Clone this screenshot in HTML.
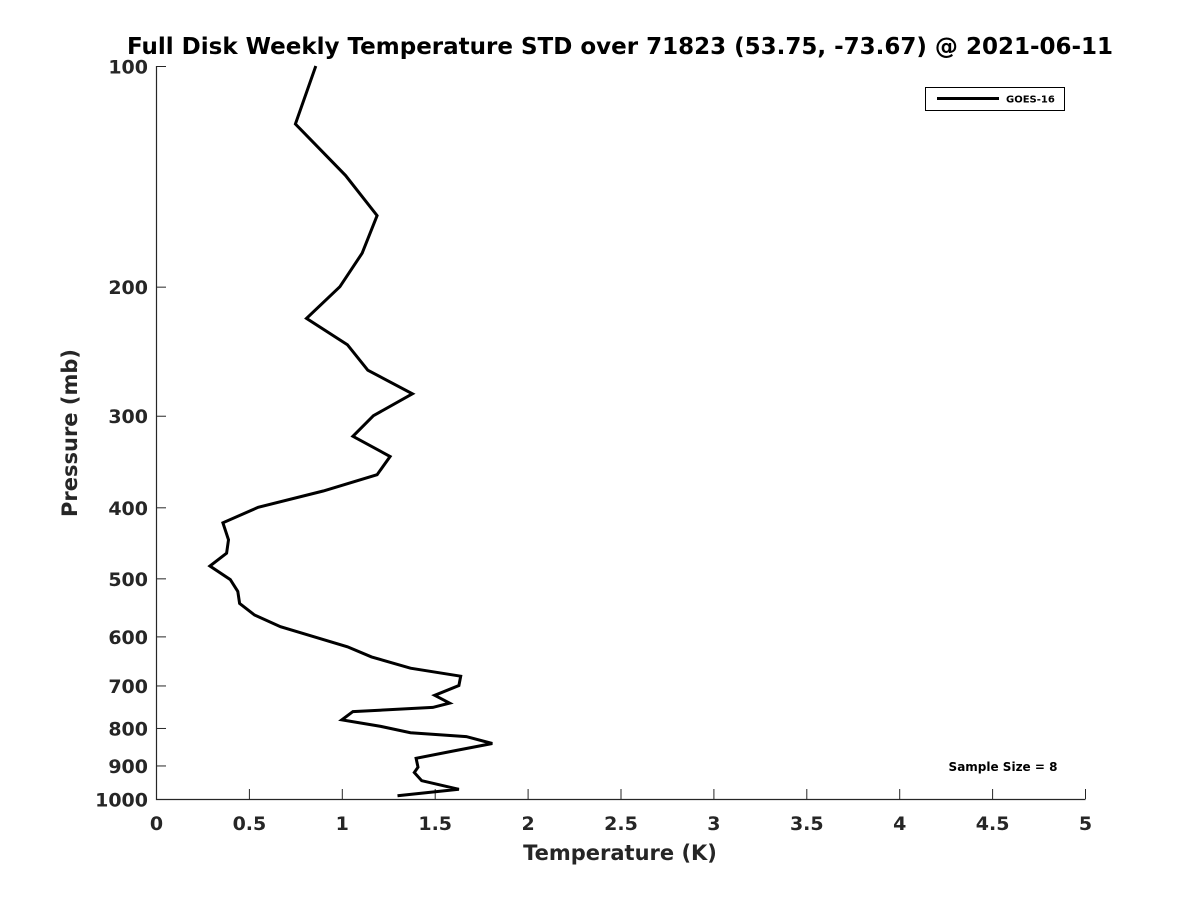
<!DOCTYPE html>
<html><head><meta charset="utf-8"><style>
body{margin:0;background:#fff;}
svg text{font-family:"DejaVu Sans","Liberation Sans",sans-serif;font-weight:bold;fill:#262626;}
</style></head><body>
<svg id="chart" width="1200" height="900" xmlns="http://www.w3.org/2000/svg">
<text x="620" y="54" font-size="23" text-anchor="middle" style="fill:#000">Full Disk Weekly Temperature STD over 71823 (53.75, -73.67) @ 2021-06-11</text>
<g id="axes"></g>
<g>
<rect x="925.5" y="87.5" width="139" height="23" fill="#fff" stroke="#000" stroke-width="1"/>
<line x1="937" y1="98.5" x2="999" y2="98.5" stroke="#000" stroke-width="3"/>
<text x="1006" y="102.5" font-size="10" style="fill:#000">GOES-16</text>
</g>
<text x="1003" y="771" font-size="12" text-anchor="middle" style="fill:#000">Sample Size = 8</text>
<text x="620" y="860" font-size="21" text-anchor="middle">Temperature (K)</text>
<text transform="translate(77,433) rotate(-90)" font-size="21" text-anchor="middle">Pressure (mb)</text>
</svg>
<script>
const xTicks=[0,0.5,1,1.5,2,2.5,3,3.5,4,4.5,5];
const xTickLabels=["0","0.5","1","1.5","2","2.5","3","3.5","4","4.5","5"];
const yTicks=[100,200,300,400,500,600,700,800,900,1000];
const yTickLabels=["100","200","300","400","500","600","700","800","900","1000"];
const pressure=[100,120,141,160,180,200,221,240,260,280,300,320,341,361,380,400,420,443,462,481,502,521,541,561,582,620,640,663,680,700,722,740,750,760,780,796,812,822,840,860,880,905,920,944,970,990];
const stdK=[0.86,0.75,1.02,1.19,1.11,0.99,0.81,1.03,1.14,1.38,1.17,1.06,1.26,1.19,0.90,0.55,0.36,0.39,0.38,0.29,0.40,0.44,0.45,0.53,0.67,1.03,1.16,1.37,1.64,1.63,1.50,1.58,1.49,1.06,1.00,1.21,1.37,1.67,1.81,1.60,1.40,1.41,1.39,1.43,1.63,1.30];
const X0=156,X1=1085,Y0=66,Y1=799;
const sx=v=>X0+(v-0)/(5-0)*(X1-X0);
const sy=p=>Y0+Math.log10(p/100)/Math.log10(10)*(Y1-Y0);
const NS="http://www.w3.org/2000/svg";
const svg=document.getElementById('chart');
const axes=document.getElementById('axes');
function mk(t,a){const e=document.createElementNS(NS,t);for(const k in a)e.setAttribute(k,a[k]);return e;}
const ax=mk('path',{d:`M${X0+0.5},${Y0} V${Y1+0.5} H${X1+0.5}`,fill:'none',stroke:'#262626','stroke-width':1.2});


axes.appendChild(ax);
xTicks.forEach((v,i)=>{
 const x=sx(v)+0.5;
 const t=mk('line',{x1:x,y1:Y1,x2:x,y2:Y1-10,stroke:'#262626','stroke-width':1});
 
 
 axes.appendChild(t);
 const l=mk('text',{x:x,y:Y1+31,'font-size':19,'text-anchor':'middle'});
 l.textContent=xTickLabels[i];
 
 
 axes.appendChild(l);
});
yTicks.forEach((p,i)=>{
 const y=sy(p)+0.5;
 const t=mk('line',{x1:X0,y1:y,x2:X0+10,y2:y,stroke:'#262626','stroke-width':1});
 
 
 axes.appendChild(t);
 const l=mk('text',{x:X0-8,y:y+7,'font-size':19,'text-anchor':'end'});
 l.textContent=yTickLabels[i];
 
 
 axes.appendChild(l);
});
const d=pressure.map((p,i)=>(i?'L':'M')+sx(stdK[i]).toFixed(1)+','+sy(p).toFixed(1)).join(' ');
const line=mk('path',{d:d,fill:'none',stroke:'#000','stroke-width':3,'stroke-linejoin':'miter'});


svg.appendChild(line);
</script>
</body></html>
